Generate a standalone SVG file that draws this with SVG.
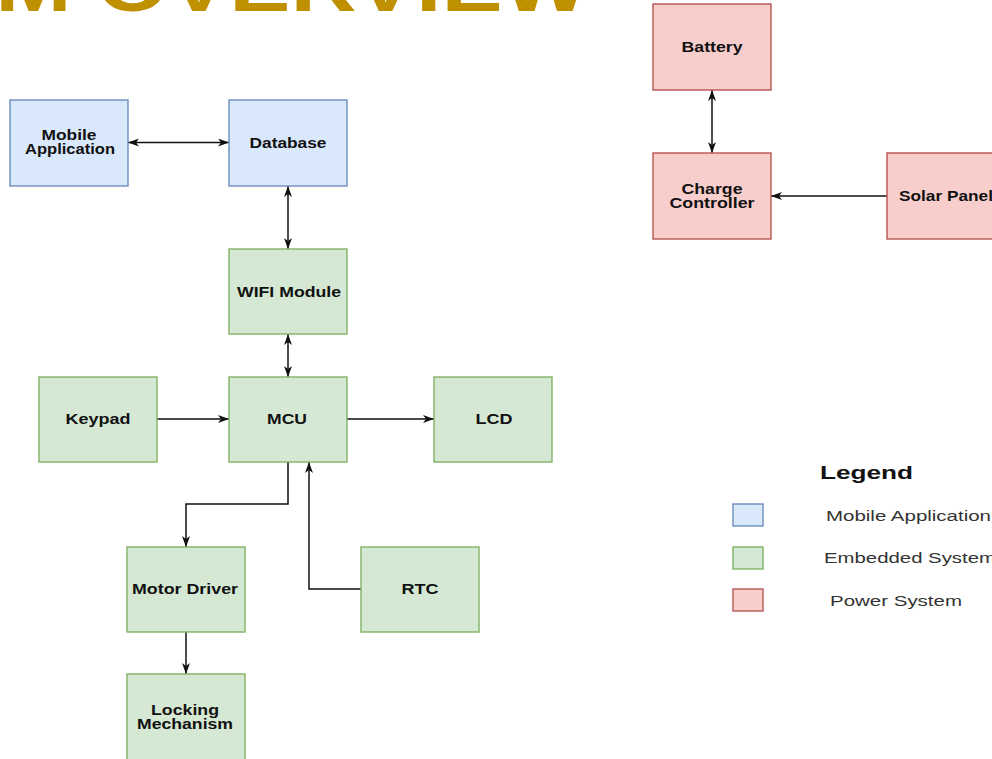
<svg xmlns="http://www.w3.org/2000/svg" width="992" height="759" viewBox="0 0 992 759">
<style>
.bx{stroke-width:1.4}
.blue{fill:#dae8fc;stroke:#6c8ebf}
.green{fill:#d5e8d4;stroke:#82b366}
.red{fill:#f8cecc;stroke:#b85450}
.lbl{font-family:"Liberation Sans",Arial,sans-serif;font-weight:bold;font-size:14px;fill:#111;text-anchor:middle}
.leg{font-family:"Liberation Sans",Arial,sans-serif;font-size:15.5px;fill:#333}
.con{fill:none;stroke:#111;stroke-width:1.5}
</style>
<defs>
<marker id="arr" viewBox="0 0 11 8" refX="11" refY="4" markerWidth="11" markerHeight="8" markerUnits="userSpaceOnUse" orient="auto-start-reverse">
<path d="M0,0 L11,4 L0,8 L3,4 Z" fill="#111"/>
</marker>
</defs>
<rect width="992" height="759" fill="#fff"/>
<text x="-305" y="11" textLength="894" lengthAdjust="spacingAndGlyphs" font-family="'Liberation Sans',Arial,sans-serif" font-weight="bold" font-size="72" fill="#bf9000">SYSTEM OVERVIEW</text>

<g id="connectors">
<path class="con" d="M128,142.5 H229" marker-start="url(#arr)" marker-end="url(#arr)"/>
<path class="con" d="M288,186 V249" marker-start="url(#arr)" marker-end="url(#arr)"/>
<path class="con" d="M288,334 V377" marker-start="url(#arr)" marker-end="url(#arr)"/>
<path class="con" d="M157,419 H229" marker-end="url(#arr)"/>
<path class="con" d="M347,419 H434" marker-end="url(#arr)"/>
<path class="con" d="M288,462 V504 H186 V547" marker-end="url(#arr)"/>
<path class="con" d="M361,589 H309 V462" marker-end="url(#arr)"/>
<path class="con" d="M186,632 V674" marker-end="url(#arr)"/>
<path class="con" d="M712,90 V153" marker-start="url(#arr)" marker-end="url(#arr)"/>
<path class="con" d="M887,196 H771" marker-end="url(#arr)"/>
</g>

<g id="mobile-application"><rect class="bx blue" x="10" y="100" width="118" height="86"/><text class="lbl" x="69" y="140" textLength="55" lengthAdjust="spacingAndGlyphs">Mobile</text><text class="lbl" x="70" y="154" textLength="90" lengthAdjust="spacingAndGlyphs">Application</text></g>
<g id="database"><rect class="bx blue" x="229" y="100" width="118" height="86"/><text class="lbl" x="288" y="148" textLength="77" lengthAdjust="spacingAndGlyphs">Database</text></g>
<g id="wifi-module"><rect class="bx green" x="229" y="249" width="118" height="85"/><text class="lbl" x="289" y="297" textLength="104" lengthAdjust="spacingAndGlyphs">WIFI Module</text></g>
<g id="keypad"><rect class="bx green" x="39" y="377" width="118" height="85"/><text class="lbl" x="98" y="424" textLength="65" lengthAdjust="spacingAndGlyphs">Keypad</text></g>
<g id="mcu"><rect class="bx green" x="229" y="377" width="118" height="85"/><text class="lbl" x="287" y="424" textLength="40" lengthAdjust="spacingAndGlyphs">MCU</text></g>
<g id="lcd"><rect class="bx green" x="434" y="377" width="118" height="85"/><text class="lbl" x="494" y="424" textLength="37" lengthAdjust="spacingAndGlyphs">LCD</text></g>
<g id="motor-driver"><rect class="bx green" x="127" y="547" width="118" height="85"/><text class="lbl" x="185" y="594" textLength="106" lengthAdjust="spacingAndGlyphs">Motor Driver</text></g>
<g id="rtc"><rect class="bx green" x="361" y="547" width="118" height="85"/><text class="lbl" x="420" y="594" textLength="37" lengthAdjust="spacingAndGlyphs">RTC</text></g>
<g id="locking-mechanism"><rect class="bx green" x="127" y="674" width="118" height="90"/><text class="lbl" x="185" y="715" textLength="68" lengthAdjust="spacingAndGlyphs">Locking</text><text class="lbl" x="185" y="729" textLength="96" lengthAdjust="spacingAndGlyphs">Mechanism</text></g>
<g id="battery"><rect class="bx red" x="653" y="4" width="118" height="86"/><text class="lbl" x="712" y="52" textLength="61" lengthAdjust="spacingAndGlyphs">Battery</text></g>
<g id="charge-controller"><rect class="bx red" x="653" y="153" width="118" height="86"/><text class="lbl" x="712" y="194" textLength="61" lengthAdjust="spacingAndGlyphs">Charge</text><text class="lbl" x="712" y="208" textLength="85" lengthAdjust="spacingAndGlyphs">Controller</text></g>
<g id="solar-panel"><rect class="bx red" x="887" y="153" width="118" height="86"/><text class="lbl" x="946" y="201" textLength="94" lengthAdjust="spacingAndGlyphs">Solar Panel</text></g>

<g id="legend">
<text x="820" y="479" textLength="93" lengthAdjust="spacingAndGlyphs" font-family="'Liberation Sans',Arial,sans-serif" font-weight="bold" font-size="19" fill="#111">Legend</text>
<rect class="bx blue" x="733" y="504" width="30" height="22"/>
<rect class="bx green" x="733" y="547" width="30" height="22"/>
<rect class="bx red" x="733" y="589" width="30" height="22"/>
<text class="leg" x="826" y="521" textLength="165" lengthAdjust="spacingAndGlyphs">Mobile Application</text>
<text class="leg" x="824" y="563" textLength="172" lengthAdjust="spacingAndGlyphs">Embedded System</text>
<text class="leg" x="830" y="606" textLength="132" lengthAdjust="spacingAndGlyphs">Power System</text>
</g>
</svg>
